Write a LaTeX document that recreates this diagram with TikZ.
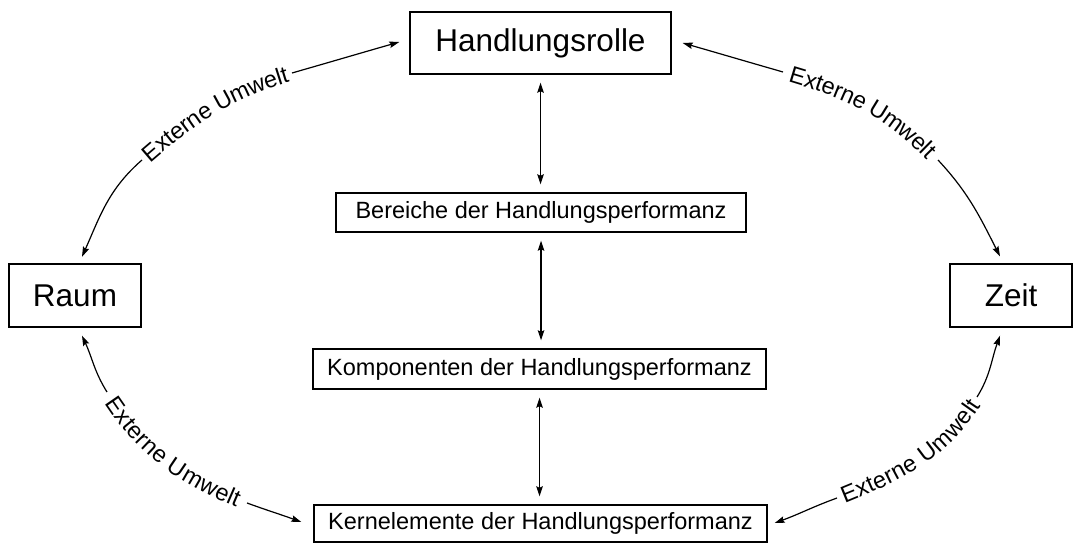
\documentclass[tikz,border=0pt]{standalone}
\usepackage{fontspec}
\setmainfont{Liberation Sans}
\usetikzlibrary{arrows.meta,calc,decorations.text}
\newcommand\umweltfont{\fontsize{23.5}{26}\selectfont}
\begin{document}
\begin{tikzpicture}[x=1pt,y=1pt,
  box/.style={draw, line width=1.4pt, inner sep=0pt, font=\fontsize{23.5}{26}\selectfont},
  bigbox/.style={box, font=\fontsize{31.5}{34}\selectfont},
  tip/.style={Stealth[length=10pt,width=6.5pt,inset=1.5pt]},
  arr/.style={line width=1.2pt, -{Stealth[length=10pt,width=6.5pt,inset=1.5pt]}},
  dbl/.style={line width=1.2pt, {Stealth[length=10pt,width=6.5pt,inset=1.5pt]}-{Stealth[length=10pt,width=6.5pt,inset=1.5pt]}, shorten >=8pt, shorten <=8pt},
  lbl/.style={decorate, decoration={text along path, text align=center, raise=-8pt, text={|\umweltfont|Externe Umwelt}}}
]
\fill[white] (0,0) rectangle (1073,543);
\useasboundingbox (0,0) rectangle (1073,543);

\node[bigbox, minimum width=261pt, minimum height=62pt] (H) at (540.5,500) {Handlungsrolle};
\node[box, minimum width=410pt, minimum height=39pt] (B) at (541,330.5) {Bereiche der Handlungsperformanz};
\node[box, minimum width=453pt, minimum height=40pt] (K) at (539.5,174) {Komponenten der Handlungsperformanz};
\node[box, minimum width=453pt, minimum height=37pt] (E) at (540.5,19.5) {Kernelemente der Handlungsperformanz};
\node[bigbox, minimum width=132pt, minimum height=63pt] (R) at (75,247.5) {Raum};
\node[bigbox, minimum width=122pt, minimum height=63pt] (Z) at (1011,247.5) {Zeit};

% vertical connectors
\draw[dbl] (H.south) -- (H.south |- B.north);
\draw[dbl] (B.south) -- (B.south |- K.north);
\draw[dbl] (K.south) -- (K.south |- E.north);

% arrow tips near the nodes
\coordinate (tHl) at ($(H.west)+(-10,1)$);
\coordinate (tHr) at ($(H.east)+(11,0)$);
\coordinate (tRt) at ($(R.north)+(7,6.5)$);
\coordinate (tRb) at ($(R.south)+(7,-8)$);
\coordinate (tZt) at ($(Z.north)+(-11,7)$);
\coordinate (tZb) at ($(Z.south)+(-11,-8)$);
\coordinate (tEl) at ($(E.west)+(-12,1.5)$);
\coordinate (tEr) at ($(E.east)+(7,0.5)$);

% label ends on the arcs
\coordinate (P1) at (142,383);
\coordinate (P2) at (292,470);
\coordinate (P3) at (783,471);
\coordinate (P4) at (938,383);
\coordinate (P5) at (107,151);
\coordinate (P6) at (247,40);
\coordinate (P7) at (837,45);
\coordinate (P8) at (977,146);

% top-left arc
\draw[arr] (P1) to[out=221,in=66] (tRt);
\path[lbl] (P1) to[out=41,in=196] (P2);
\draw[arr] (P2) to[out=16,in=196] (tHl);

% top-right arc
\draw[arr] (P3) to[out=164,in=-16] (tHr);
\path[lbl] (P3) to[out=-16,in=133] (P4);
\draw[arr] (P4) to[out=-47,in=117] (tZt);

% bottom-left arc
\draw[arr] (P5) to[out=122,in=-65] (tRb);
\path[lbl] (P5) to[out=-58,in=158] (P6);
\draw[arr] (P6) to[out=-20,in=160] (tEl);

% bottom-right arc
\draw[arr] (P7) to[out=200,in=20] (tEr);
\path[lbl] (P7) to[out=22,in=238] (P8);
\draw[arr] (P8) to[out=58,in=250] (tZb);
\end{tikzpicture}
\end{document}
